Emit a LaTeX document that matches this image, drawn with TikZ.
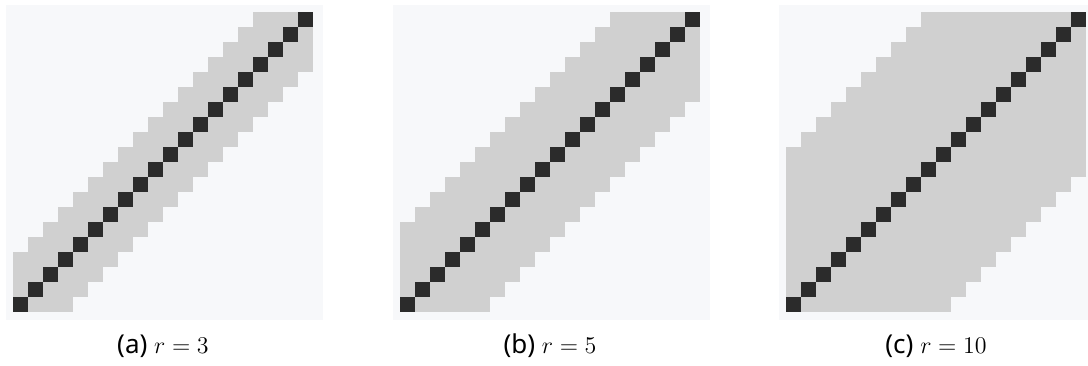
\documentclass[tikz,border=0pt]{standalone}
\usepackage{fontspec}
\setmainfont{Noto Sans}
\definecolor{panelbg}{HTML}{F7F8FA}
\definecolor{bandgray}{HTML}{D0D0D0}
\definecolor{diagblack}{HTML}{2B2B2B}
\tikzset{
  panel/.style={fill=panelbg},
  bandcell/.style={fill=bandgray},
  diagcell/.style={fill=diagblack},
  caption/.style={font=\fontsize{13}{15}\selectfont, inner sep=0pt}
}
\newcommand{\bandpanel}[3]{% #1 bg left, #2 grid left, #3 r
  \fill[panel] (#1,5) rectangle ++(317,315);
  \foreach \i in {0,...,19}{
    \foreach \j in {0,...,19}{
      \pgfmathtruncatemacro\dd{abs(\i-\j)}
      \ifnum\dd>#3\relax\else
        \ifnum\dd=0\relax
          \fill[diagcell] ({#2+15*\j},{312-15*\i}) rectangle ++(15,-15);
        \else
          \fill[bandcell] ({#2+15*\j},{312-15*\i}) rectangle ++(15,-15);
        \fi
      \fi
    }
  }
}
\begin{document}
\begin{tikzpicture}[x=0.5pt,y=-0.5pt]
\useasboundingbox (0,0) rectangle (1088,365);
\bandpanel{6}{13}{3}
\bandpanel{393}{400}{5}
\bandpanel{779}{786}{10}
\node[caption] (capa) at (163,346) {(a) $r=3$};
\node[caption] (capb) at (550,346) {(b) $r=5$};
\node[caption] (capc) at (936,346) {(c) $r=10$};
\end{tikzpicture}
\end{document}
